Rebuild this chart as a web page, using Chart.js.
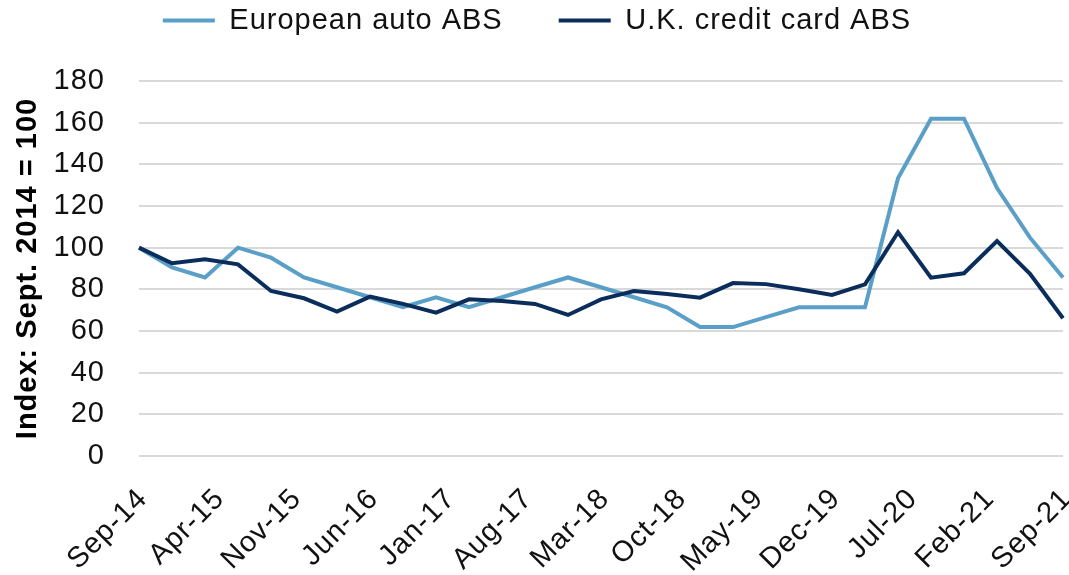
<!DOCTYPE html>
<html>
<head>
<meta charset="utf-8">
<title>European auto ABS vs U.K. credit card ABS</title>
<script src="https://cdn.jsdelivr.net/npm/chart.js@4.4.0/dist/chart.umd.min.js"></script>
<style>
  html, body { margin: 0; padding: 0; background: #fff; }
  canvas { display: block; }
</style>
</head>
<body>
<canvas id="absChart" width="1069" height="575"></canvas>
<script>
// quarterly index readings (Sept. 2014 = 100), Sep-14 .. Sep-21
var europeanAuto = [100, 90.5, 85.7, 100, 95.2, 85.7, 81.0, 76.2, 71.4, 76.2,
  71.4, 76.2, 81.0, 85.7, 81.0, 76.2, 71.4, 61.9, 61.9, 66.7,
  71.4, 71.4, 71.4, 133.3, 161.9, 161.9, 128.6, 104.8, 85.7];
var ukCreditCard = [100, 92.5, 94.4, 92.0, 79.2, 75.7, 69.3, 76.5, 73.0, 68.8,
  75.2, 74.4, 73.0, 67.7, 75.2, 79.2, 77.8, 76.0, 83.0, 82.5,
  80.0, 77.3, 82.4, 107.4, 85.6, 87.7, 103.2, 87.4, 66.1];

var monthNames = ["Jan", "Feb", "Mar", "Apr", "May", "Jun", "Jul", "Aug", "Sep", "Oct", "Nov", "Dec"];
var firstMonth = 8;   // Sep
var firstYear = 2014;
var labelEvery = 7;   // one axis label every 7 months
var yTicks = { min: 0, max: 180, step: 20 };

// month-by-month category axis, quarterly points sit on every 3rd month
var months = [];
for (var i = 0; i <= (europeanAuto.length - 1) * 3; i++) {
  var m = firstMonth + i;
  var yy = firstYear + Math.floor(m / 12);
  months.push(monthNames[m % 12] + "-" + String(yy).slice(2));
}

function toMonthly(quarterly) {
  var out = months.map(function () { return null; });
  quarterly.forEach(function (v, q) { out[q * 3] = v; });
  return out;
}

var FONT = "'Liberation Sans', Arial, sans-serif";
var LIGHT = "#5a9fc8";
var DARK = "#0b2d5c";

// space between the legend row and the plot
var legendSpacer = {
  id: "legendSpacer",
  afterInit: function (chart) {
    var fit = chart.legend.fit;
    chart.legend.fit = function () {
      fit.call(this);
      this.height += 36;
    };
  },
};

// slightly airy lettering
var textSpacing = {
  id: "textSpacing",
  beforeLayout: function (chart) { chart.ctx.letterSpacing = "1px"; },
  beforeDraw: function (chart) { chart.ctx.letterSpacing = "1px"; },
};

var ctx = document.getElementById("absChart").getContext("2d");
var myChart = new Chart(ctx, {
  type: "line",
  data: {
    labels: months,
    datasets: [
      {
        label: "European auto ABS",
        data: toMonthly(europeanAuto),
        borderColor: LIGHT,
        backgroundColor: LIGHT,
        borderWidth: 4,
        pointRadius: 0,
        spanGaps: true,
        tension: 0,
        order: 1,
      },
      {
        label: "U.K. credit card ABS",
        data: toMonthly(ukCreditCard),
        borderColor: DARK,
        backgroundColor: DARK,
        borderWidth: 4,
        pointRadius: 0,
        spanGaps: true,
        tension: 0,
        order: 0,
      },
    ],
  },
  options: {
    responsive: false,
    animation: false,
    layout: {
      padding: { top: -50, left: 11, right: 6, bottom: 0 },
    },
    plugins: {
      legend: {
        display: true,
        labels: {
          boxWidth: 52,
          boxHeight: 4,
          padding: 56,
          color: "#111",
          font: { family: FONT, size: 29 },
          generateLabels: function (chart) {
            var items = Chart.defaults.plugins.legend.labels.generateLabels(chart);
            items.forEach(function (it) { it.lineWidth = 0; });
            return items.sort(function (a, b) { return a.datasetIndex - b.datasetIndex; });
          },
        },
      },
      tooltip: { enabled: false },
    },
    scales: {
      x: {
        grid: { display: false, drawTicks: false },
        border: { display: false },
        ticks: {
          autoSkip: false,
          minRotation: 45,
          maxRotation: 45,
          padding: 26,
          labelOffset: 4,
          color: "#111",
          font: { family: FONT, size: 29 },
          callback: function (value, index) {
            return index % labelEvery === 0 ? this.getLabelForValue(value) : null;
          },
        },
        afterFit: function (scale) {
          scale.paddingLeft = 0;
          scale.paddingRight = 0;
          scale.height = 119;
        },
      },
      y: {
        min: yTicks.min,
        max: yTicks.max,
        grid: { color: "#d9d9d9", lineWidth: 2, drawTicks: false },
        border: { display: false },
        ticks: {
          stepSize: yTicks.step,
          padding: 34,
          color: "#111",
          font: { family: FONT, size: 29 },
        },
        title: {
          display: true,
          text: "Index: Sept. 2014 = 100",
          color: "#000",
          font: { family: FONT, size: 29, weight: "bold" },
          padding: { top: 0, bottom: 8 },
        },
        afterFit: function (scale) {
          scale.width = 128;
        },
      },
    },
  },
  plugins: [legendSpacer, textSpacing],
});
</script>
</body>
</html>
